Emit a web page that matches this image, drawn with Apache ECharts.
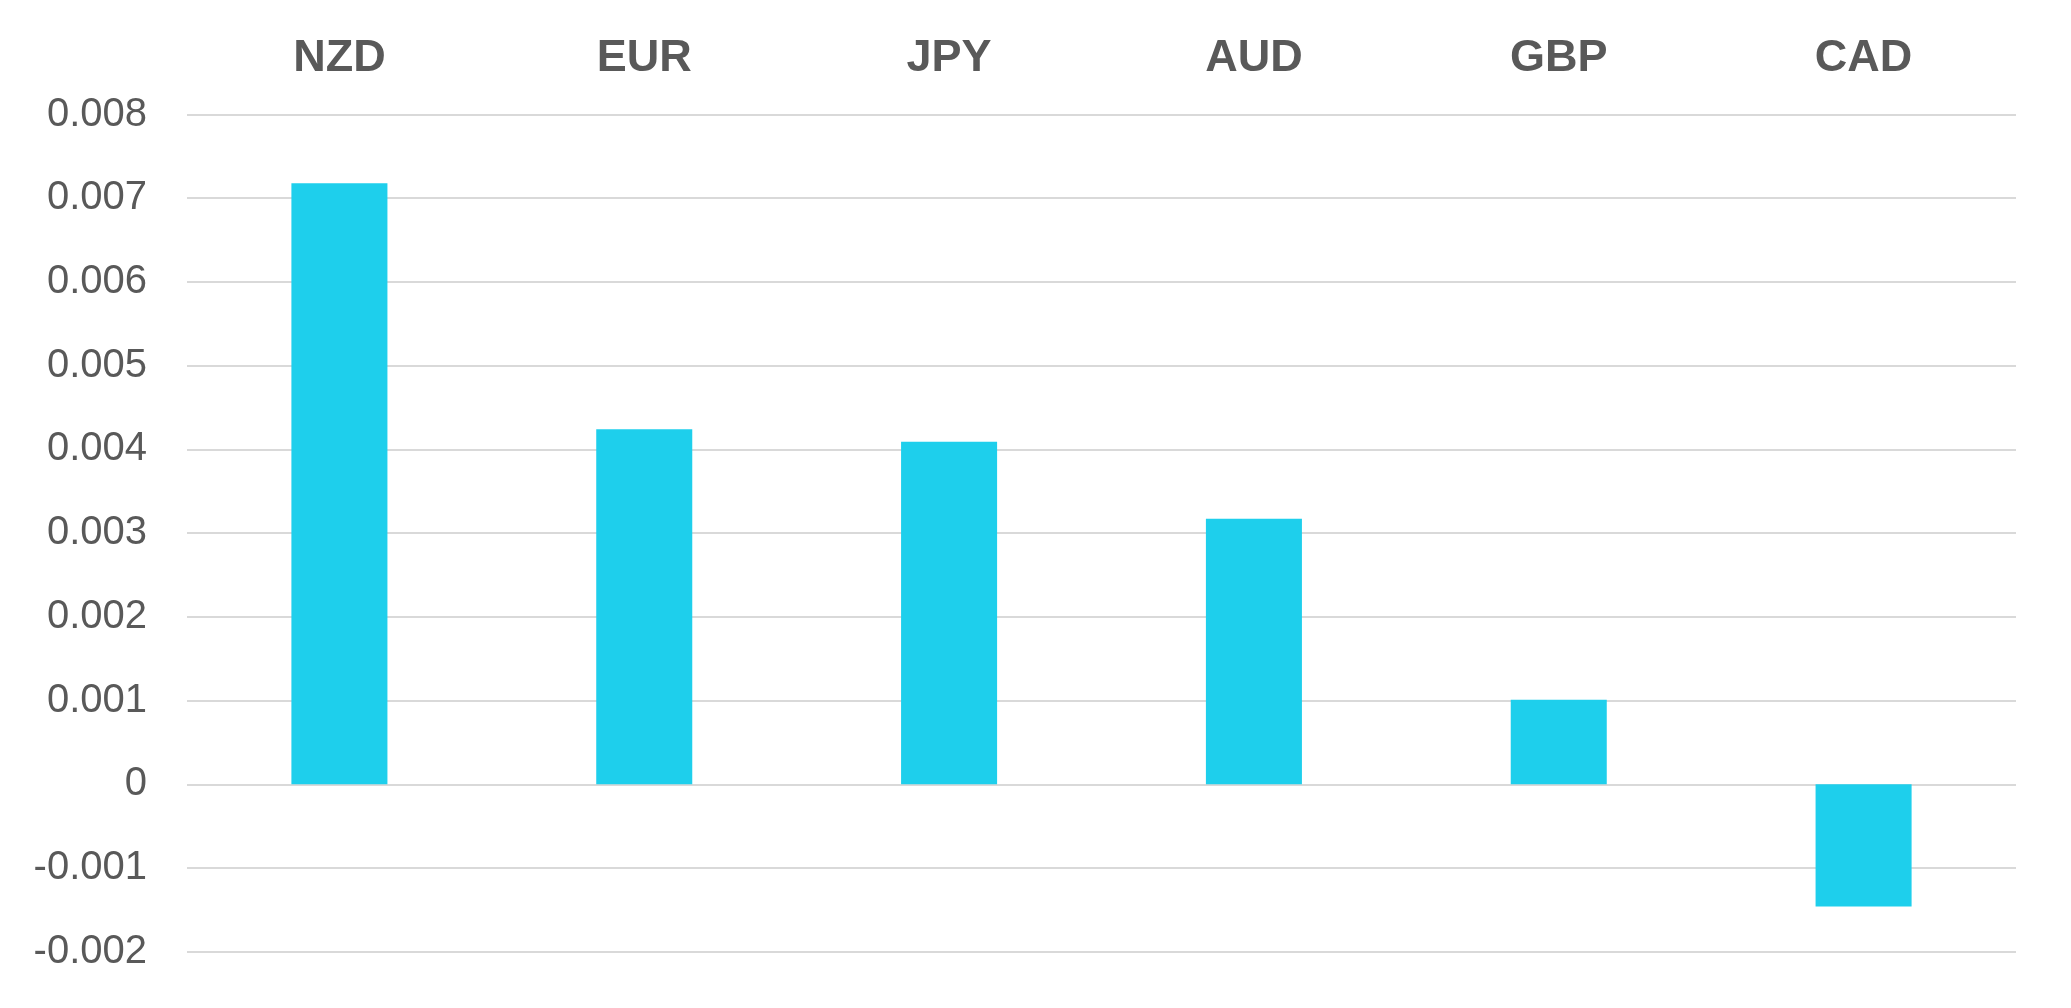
<!DOCTYPE html>
<html>
<head>
<meta charset="utf-8">
<script src="https://cdn.jsdelivr.net/npm/echarts@6/dist/echarts.min.js"></script>
<style>
  html, body { margin: 0; padding: 0; background: #ffffff; }
  #chart { width: 2071px; height: 1008px; }
</style>
</head>
<body>
<div id="chart"></div>
<script>
const categories = ["NZD", "EUR", "JPY", "AUD", "GBP", "CAD"];
const values = [0.00718, 0.00424, 0.00409, 0.00317, 0.00101, -0.00146];
const yMin = -0.002;
const yMax = 0.008;
const yStep = 0.001;

const chart = echarts.init(document.getElementById('chart'), null, { renderer: 'canvas' });
chart.setOption({
  backgroundColor: '#ffffff',
  animation: false,
  grid: { left: 187, right: 55, top: 114.5, bottom: 56.3, containLabel: false },
  xAxis: {
    type: 'category',
    position: 'top',
    data: categories,
    axisLine: { show: false },
    axisTick: { show: false },
    splitLine: { show: false },
    axisLabel: {
      color: '#595959',
      fontFamily: 'Liberation Sans, Arial, sans-serif',
      fontWeight: 'bold',
      fontSize: 45,
      margin: 33
    }
  },
  yAxis: {
    type: 'value',
    min: yMin,
    max: yMax,
    interval: yStep,
    axisLine: { show: false },
    axisTick: { show: false },
    splitLine: { show: true, lineStyle: { color: '#d9d9d9', width: 2 } },
    axisLabel: {
      color: '#595959',
      fontFamily: 'Liberation Sans, Arial, sans-serif',
      fontSize: 40,
      margin: 40,
      padding: [6, 0, 0, 0],
      formatter: v => String(parseFloat(Number(v).toFixed(3)))
    }
  },
  series: [{
    type: 'bar',
    data: values,
    barWidth: '31.5%',
    itemStyle: { color: '#1ecfec' }
  }]
});
</script>
</body>
</html>
